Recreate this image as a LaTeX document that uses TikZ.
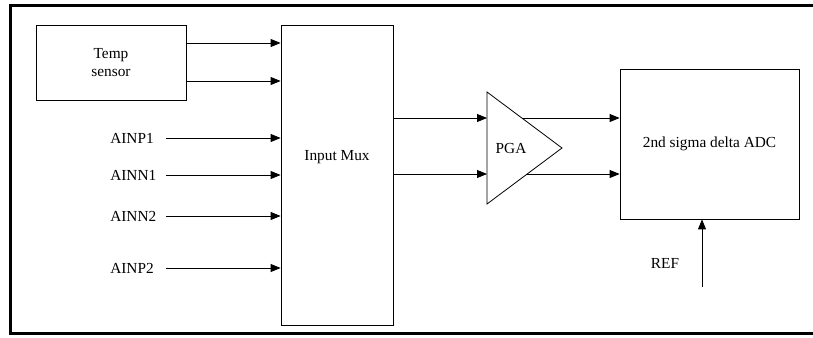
\documentclass[tikz,border=0pt]{standalone}
\usepackage{fontspec}
\setmainfont{Liberation Serif}
\usetikzlibrary{arrows.meta}

\begin{document}
\begin{tikzpicture}[x=0.75pt, y=-0.75pt,
  font=\fontsize{11.5}{13.5}\selectfont,
  block/.style={rectangle, draw, line width=0.6pt, inner sep=0pt, align=center},
  pin/.style={anchor=west, inner sep=0pt},
  arrow/.style={-{Triangle[length=7.5pt,width=6pt]}, line width=0.6pt}]

  \useasboundingbox (0,0) rectangle (813,338);
  % outer frame, open to the right
  \draw[line width=2.25pt] (813,6) -- (10,6) -- (10,333) -- (813,333);

  \node[block, minimum width=112.5pt, minimum height=56.25pt] (temp) at (111,62.5) {Temp\\sensor};
  \node[block, minimum width=84pt, minimum height=225pt] (mux) at (337,175) {};
  \node (muxlabel) at (337,157) {Input Mux};
  \node[block, minimum width=134.25pt, minimum height=112.5pt] (adc) at (709.5,144) {2nd sigma delta ADC};

  % PGA triangle
  \coordinate (pgatop) at (487,92);
  \coordinate (pgabot) at (487,204);
  \coordinate (pgatip) at (562,148);
  \draw[line width=0.6pt] (pgatop) -- (pgatip) -- (pgabot) -- cycle;
  \node (pga) at (511,148) {PGA};

  \node[pin] (ainp1) at (110,138) {AINP1};
  \node[pin] (ainn1) at (110,175) {AINN1};
  \node[pin] (ainn2) at (110,216) {AINN2};
  \node[pin] (ainp2) at (110,268) {AINP2};
  \node (ref) at (665,263) {REF};
  \coordinate (refend) at (702,287);

  \draw[arrow] (temp.east |- 0,43) -- (mux.west |- 0,43);
  \draw[arrow] (temp.east |- 0,81) -- (mux.west |- 0,81);
  \draw[arrow] (166,138) -- (mux.west |- ainp1);
  \draw[arrow] (166,175) -- (mux.west |- ainn1);
  \draw[arrow] (166,216) -- (mux.west |- ainn2);
  \draw[arrow] (166,268) -- (mux.west |- ainp2);

  \draw[arrow] (mux.east |- 0,118) -- (pgatop |- 0,118);
  \draw[arrow] (mux.east |- 0,174) -- (pgatop |- 0,174);
  \draw[arrow] (522,118) -- (adc.west |- 0,118);
  \draw[arrow] (527,174) -- (adc.west |- 0,174);

  \draw[arrow] (refend) -- (adc.south -| refend);

\end{tikzpicture}
\end{document}
